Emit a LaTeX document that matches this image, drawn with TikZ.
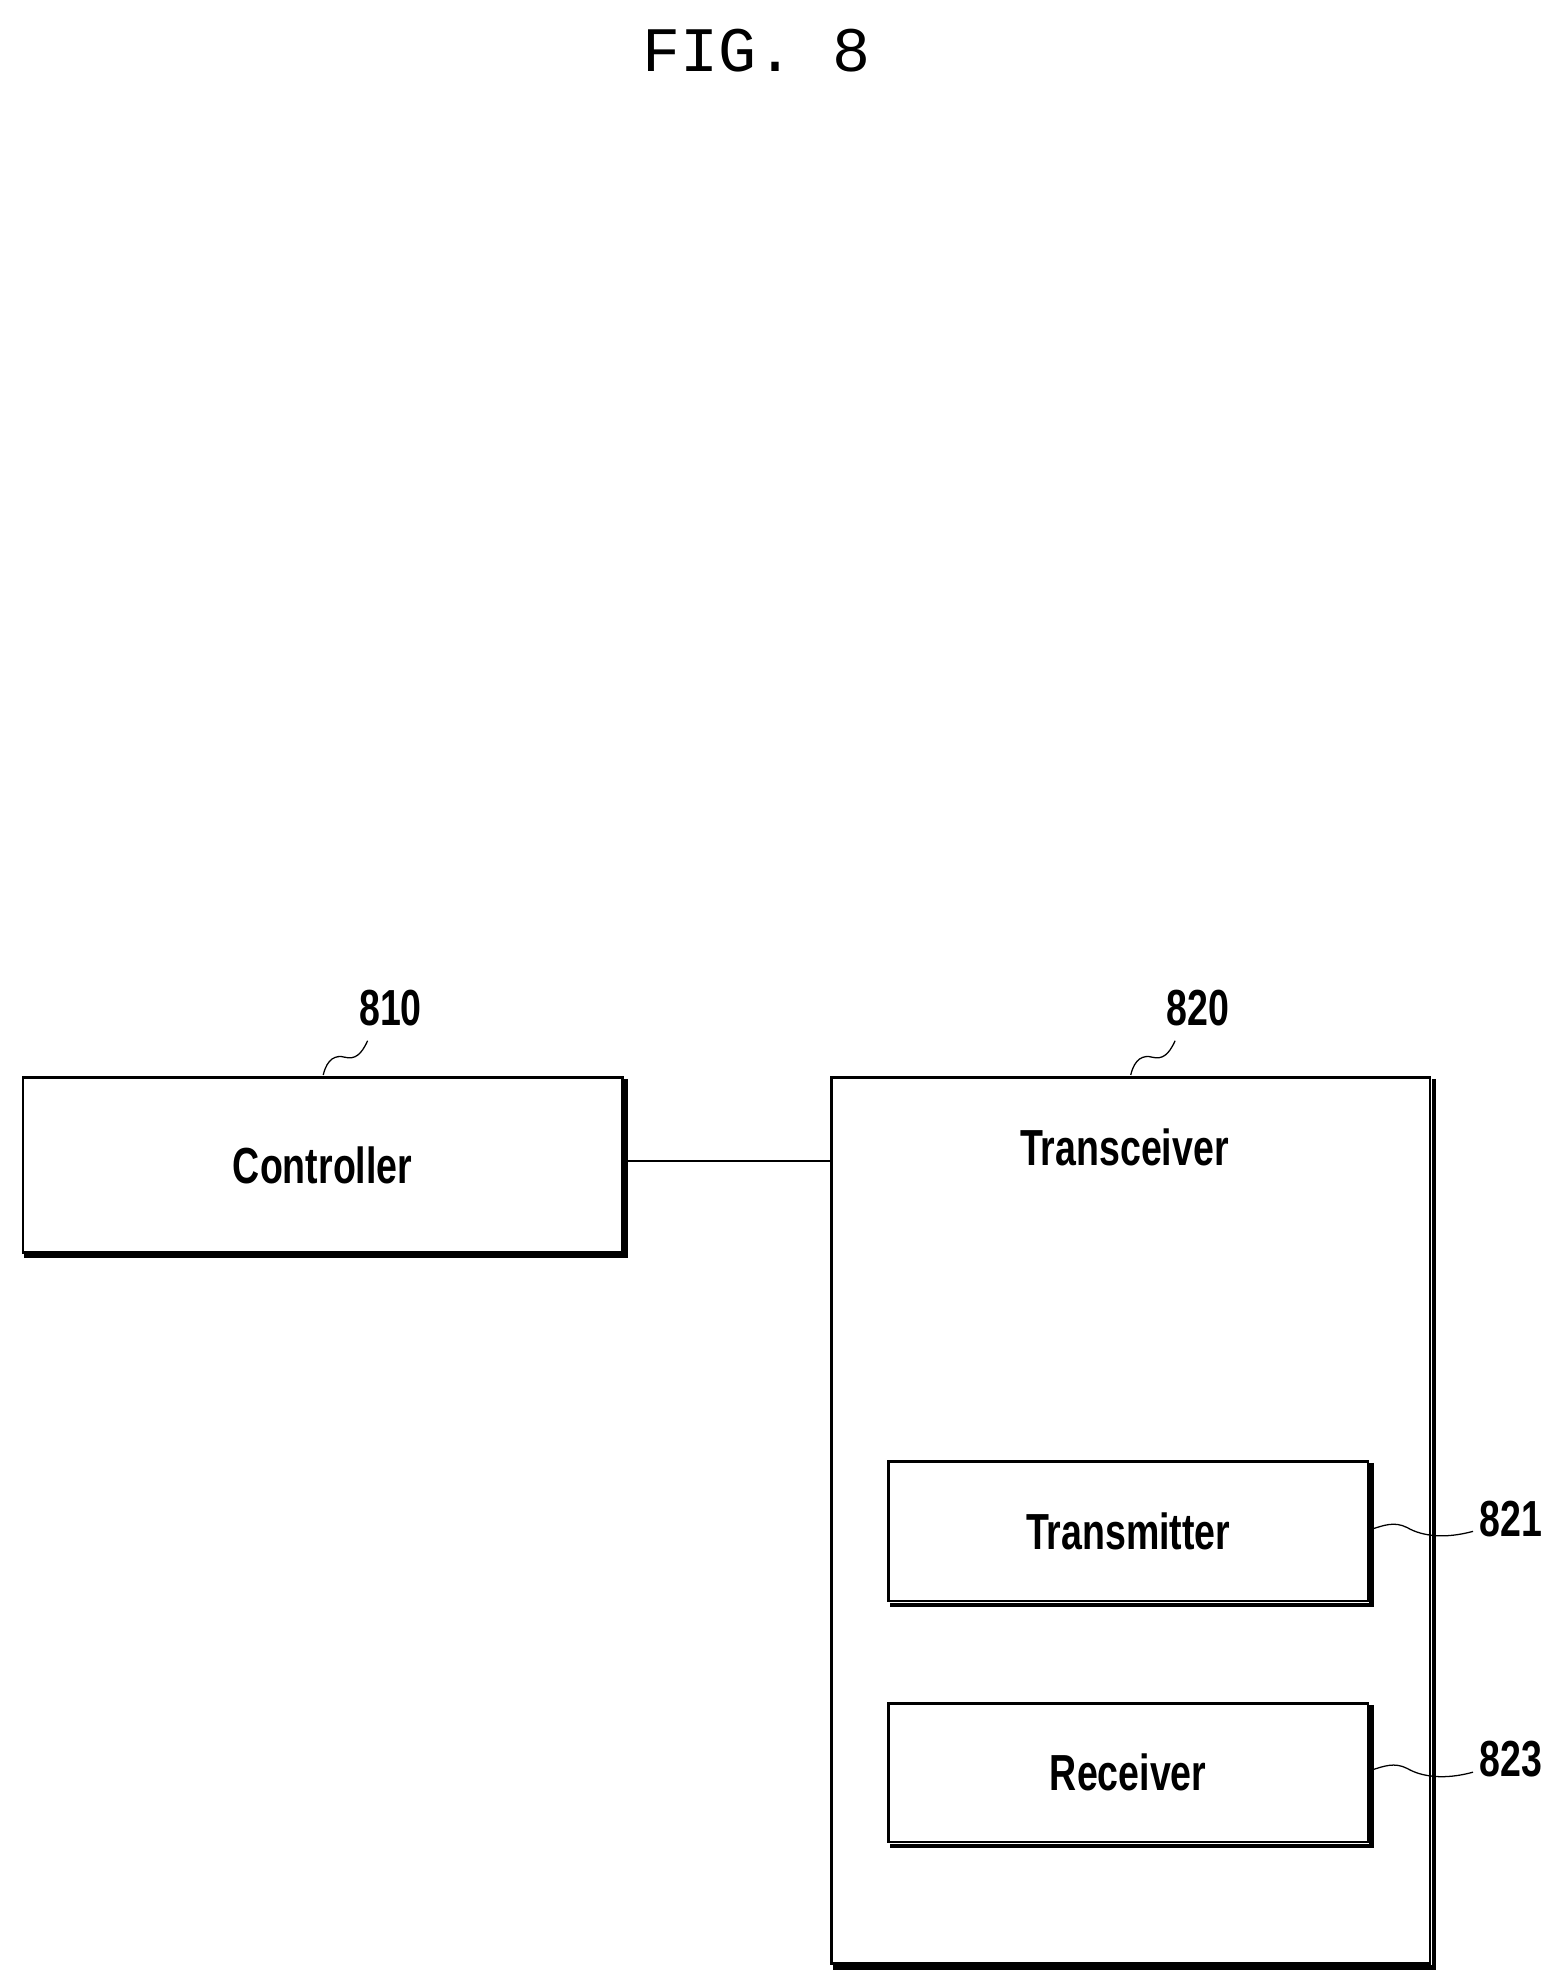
\documentclass[tikz,border=0pt]{standalone}
\usepackage{fontspec}
\setmainfont{Liberation Sans}
\newfontfamily\monof{Liberation Mono}
\tikzset{
 blk/.style={draw,line width=2pt,inner sep=0pt},
 lab/.style={font=\fontsize{40}{44}\selectfont,inner sep=0pt},
 sq/.style={line width=1pt}
}
\newcommand{\nx}[1]{\scalebox{0.74}[1]{\bfseries #1}}
\newcommand{\shadow}[1]{\draw[line width=3.5pt] ([xshift=2pt,yshift=-2pt]#1.north east) -- ([xshift=2pt,yshift=-2pt]#1.south east) -- ([xshift=2pt,yshift=-2pt]#1.south west);}
\begin{document}
\begin{tikzpicture}[x=1pt,y=-1pt]
\useasboundingbox (0,0) rectangle (1224,1558);
\node[font=\monof\fontsize{50}{54}\selectfont] (title) at (597,40) {FIG. 8};
% boxes
\node[blk,minimum width=473pt,minimum height=138pt,anchor=north west] (ctrl) at (17,849) {};
\node[lab] at (ctrl.center) {\nx{Controller}};
\node[blk,minimum width=472pt,minimum height=699pt,anchor=north west] (trx) at (655,849) {};
\node[lab] (trxt) at (887,905) {\nx{Transceiver}};
\node[blk,minimum width=378pt,minimum height=110pt,anchor=north west] (tx) at (700,1152) {};
\node[lab] at (tx.center) {\nx{Transmitter}};
\node[blk,minimum width=378pt,minimum height=109pt,anchor=north west] (rx) at (700,1343) {};
\node[lab] at (rx.center) {\nx{Receiver}};
\shadow{ctrl}\shadow{trx}\shadow{tx}\shadow{rx}
% connector
\coordinate (c1) at (490,916);
\coordinate (c2) at (655,916);
\draw[line width=2pt] (c1) -- (c2);
% labels
\node[lab] (l810) at (308,795) {\nx{810}};
\node[lab] (l820) at (945,795) {\nx{820}};
\node[lab] (l821) at (1192,1198) {\nx{821}};
\node[lab] (l823) at (1192,1388) {\nx{823}};
\draw[sq] (255,848) .. controls (258,835) and (265,832) .. (272,834) .. controls (280,836) and (285,832) .. (290,821);
\draw[sq] (892,848) .. controls (895,835) and (902,832) .. (909,834) .. controls (917,836) and (922,832) .. (927,821);
\draw[sq] (1080,1207) .. controls (1092,1203) and (1100,1200) .. (1110,1205) .. controls (1122,1212) and (1140,1214) .. (1162,1208);
\draw[sq] (1080,1397) .. controls (1092,1393) and (1100,1390) .. (1110,1395) .. controls (1122,1402) and (1140,1404) .. (1162,1398);
\end{tikzpicture}
\end{document}
